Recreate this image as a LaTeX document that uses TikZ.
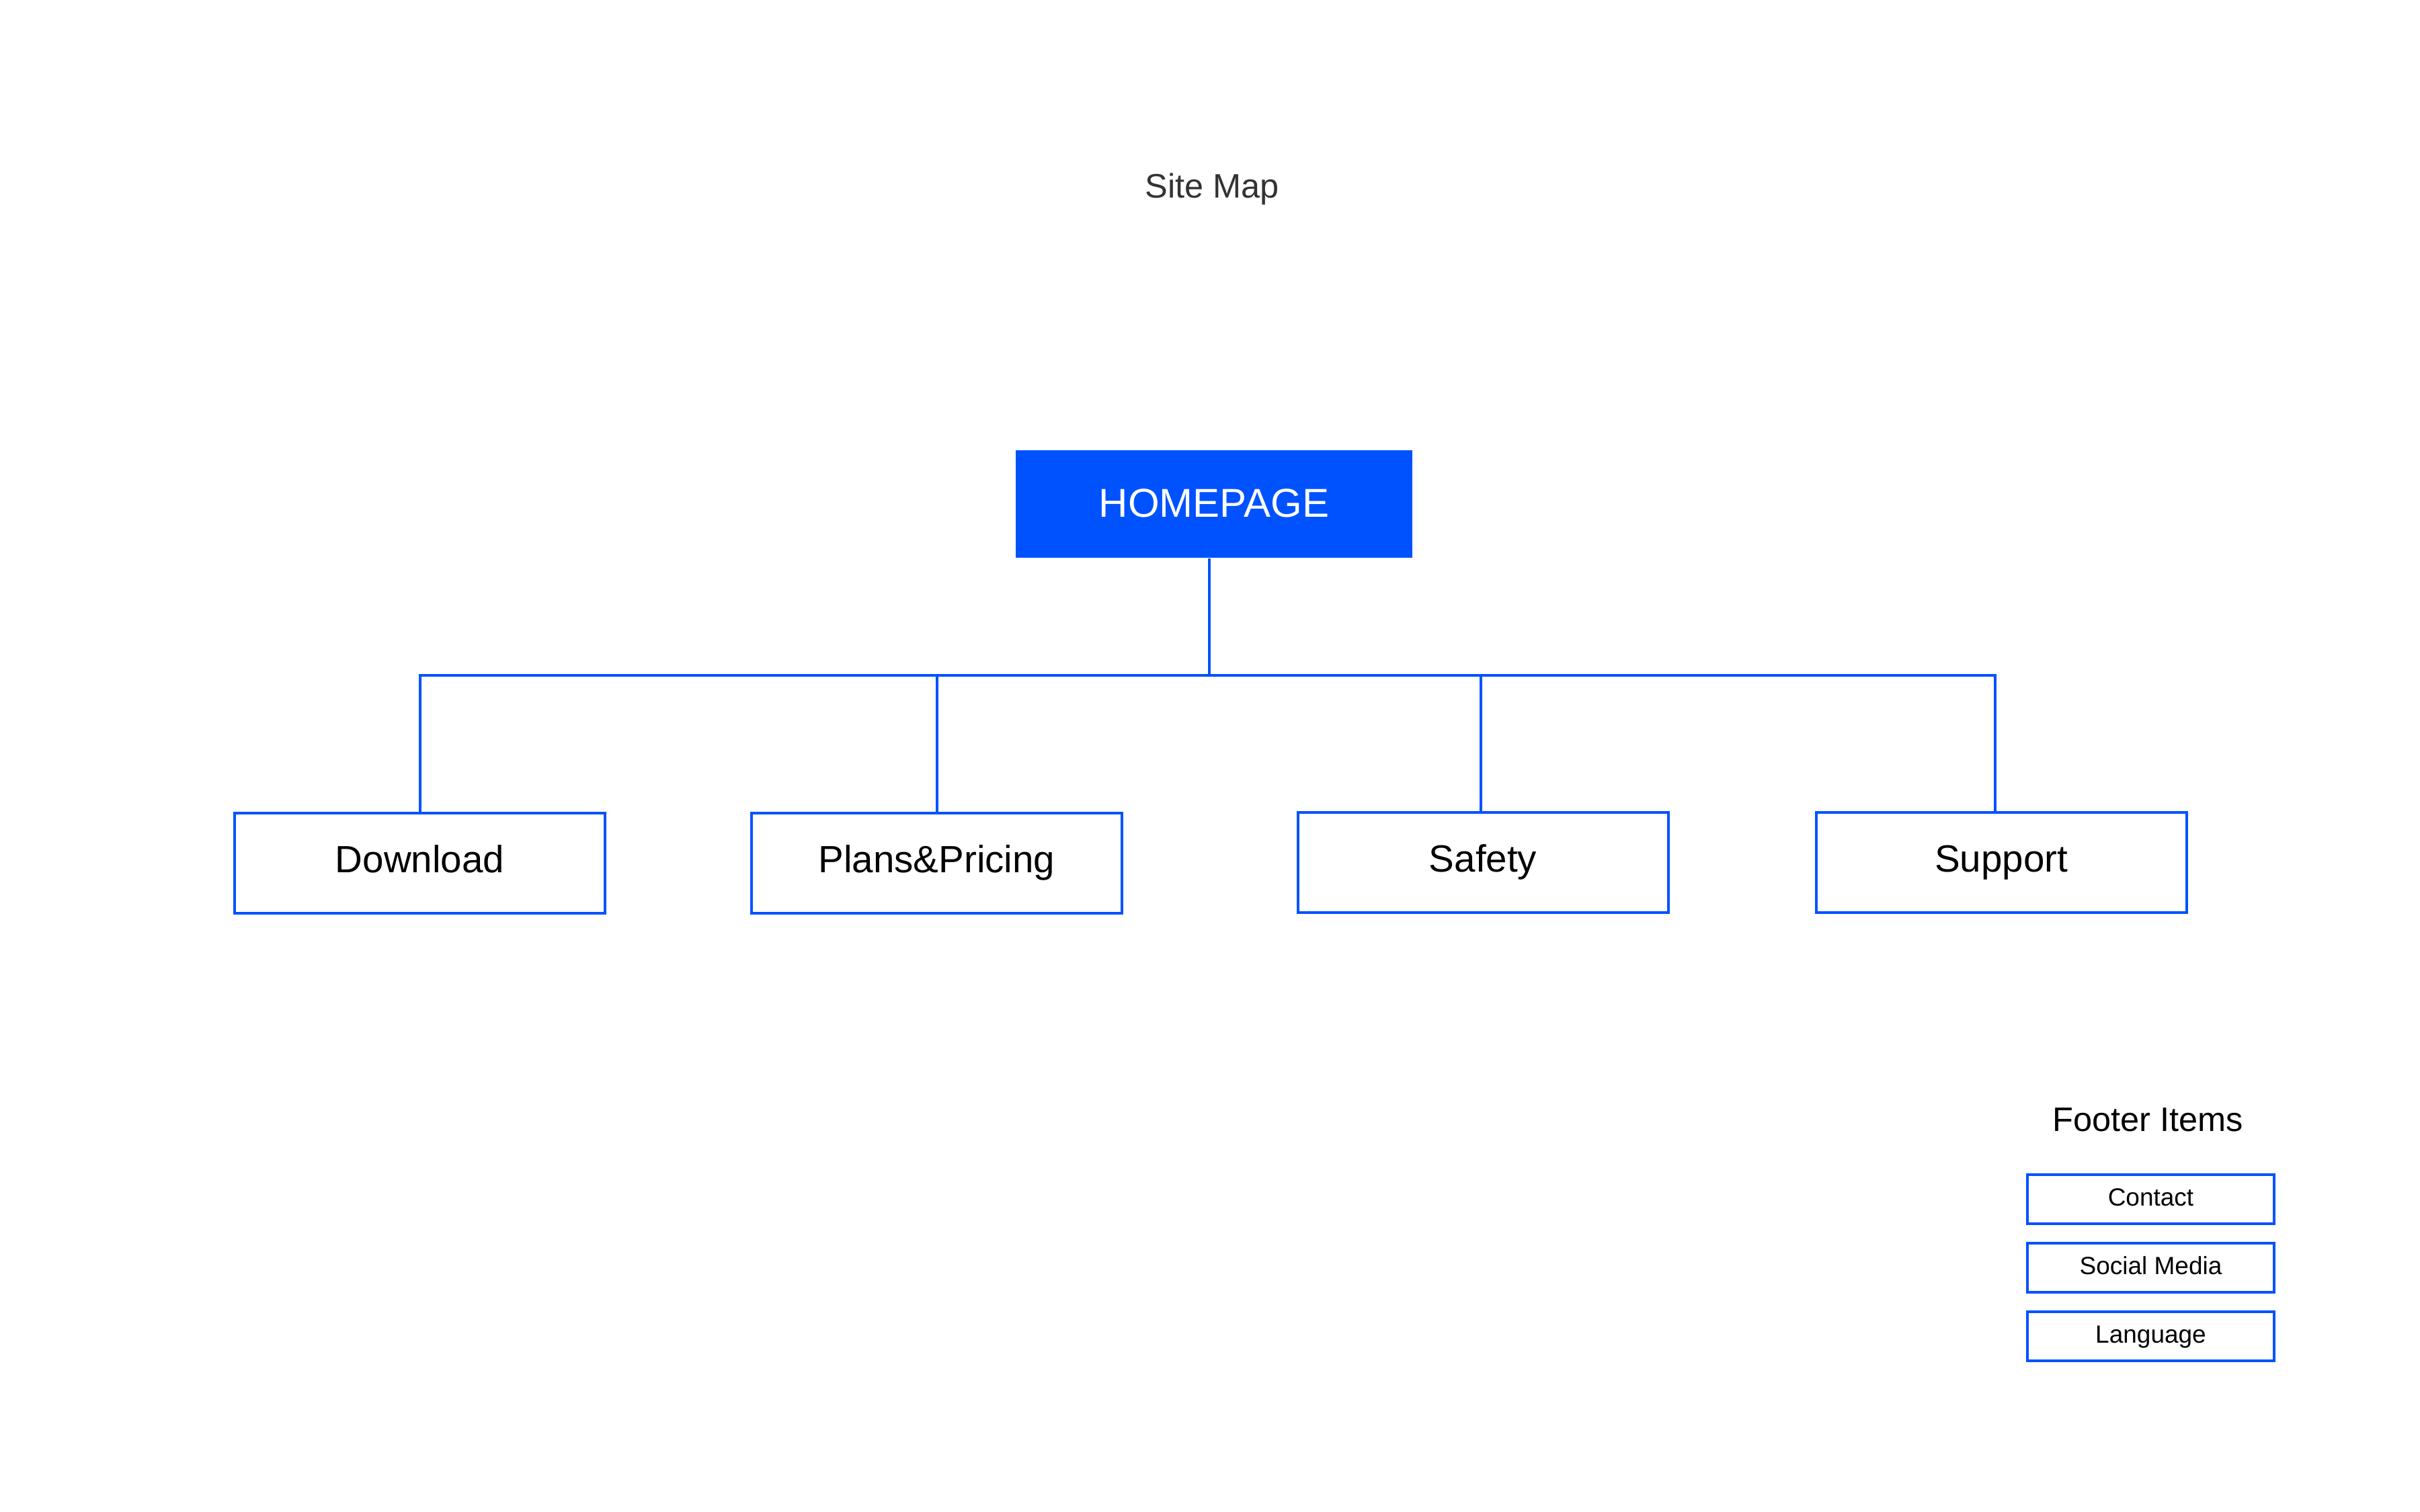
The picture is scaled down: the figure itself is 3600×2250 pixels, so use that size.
\documentclass[tikz,border=0pt]{standalone}
\usepackage{fontspec}
\setmainfont{Liberation Sans}
\definecolor{brandblue}{RGB}{0,82,255}
\definecolor{titlegray}{RGB}{51,51,51}
\begin{document}
\begin{tikzpicture}[x=0.2pt,y=-0.2pt,
  link/.style={draw=brandblue,line width=0.8pt},
  homebox/.style={fill=brandblue,draw=none,text=white,inner sep=0pt,
    minimum width=118pt,minimum height=32pt,text height=9pt,text depth=1pt,
    font=\fontsize{12}{14}\selectfont},
  pagebox/.style={draw=brandblue,line width=0.8pt,fill=white,inner sep=0pt,
    minimum width=110.2pt,minimum height=29.8pt,text height=8pt,text depth=2.6pt,
    font=\fontsize{11.3}{13}\selectfont},
  footbox/.style={draw=brandblue,line width=0.8pt,fill=white,inner sep=0pt,
    minimum width=73.4pt,minimum height=14.6pt,text height=5.3pt,text depth=1.4pt,
    font=\fontsize{7.4}{9}\selectfont},
  heading/.style={anchor=base,inner sep=0pt,font=\fontsize{10.1}{12}\selectfont}
]
\useasboundingbox[fill=white] (0,0) rectangle (3600,2250);

\node[heading,text=titlegray] (title) at (1803,295) {Site Map};

\node[homebox] (hp) at (1806,750) {HOMEPAGE};

\node[pagebox] (dl) at (624.5,1284.5) {Download};
\node[pagebox] (pp) at (1393.5,1284.5) {Plans\&Pricing};
\node[pagebox] (sf) at (2206,1283.5) {Safety};
\node[pagebox] (sp) at (2977,1283.5) {Support};

\coordinate (bus) at (1799,1005);
\draw[link] (hp.south -| bus) -- (bus);
\draw[link] (dl.north) |- (bus);
\draw[link] (pp.north) |- (bus);
\draw[link] ([xshift=-0.6pt]sf.north) |- (bus);
\draw[link] ([xshift=-1.8pt]sp.north) |- (bus);

\node[heading,text=black] (footer) at (3195,1683) {Footer Items};
\node[footbox] (contact) at (3199.5,1784.5) {Contact};
\node[footbox] (social) at (3199.5,1886.5) {Social Media};
\node[footbox] (lang) at (3199.5,1988.5) {Language};
\end{tikzpicture}
\end{document}
